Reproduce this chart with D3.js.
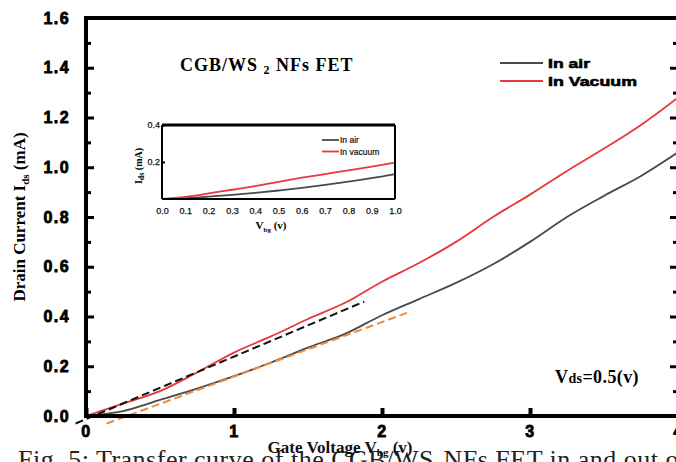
<!DOCTYPE html>
<html>
<head>
<meta charset="utf-8">
<script src="https://cdn.jsdelivr.net/npm/d3@7"></script>
<style>
  body { margin: 0; background: #fff; }
  svg { display: block; }
  .bold-sans { font-family: "Liberation Sans", Arial, sans-serif; font-weight: bold; }
  .serif { font-family: "Liberation Serif", "Times New Roman", serif; }
</style>
</head>
<body>
<div id="chart"></div>
<script>
// main curves (gate voltage in V, drain current in mA)
const gateV = [0, 0.25, 0.5, 0.75, 1.0, 1.25, 1.5, 1.75, 2.0, 2.25, 2.5, 2.75, 3.0, 3.25, 3.5, 3.75, 4.0];
const currentAir = [0, 0.02, 0.065, 0.11, 0.16, 0.215, 0.275, 0.33, 0.405, 0.47, 0.535, 0.61, 0.70, 0.80, 0.885, 0.965, 1.06];
const currentVacuum = [0, 0.05, 0.10, 0.175, 0.255, 0.32, 0.39, 0.455, 0.54, 0.615, 0.70, 0.80, 0.89, 0.985, 1.075, 1.17, 1.28];

// linear fits (dashed)
const fitVacuum = [[-0.07, -0.03], [1.88, 0.46]];
const fitAir = [[0.14, -0.03], [2.17, 0.415]];

// inset (low bias)
const insetV = [0, 0.1, 0.2, 0.3, 0.4, 0.5, 0.6, 0.7, 0.8, 0.9, 1.0];
const insetAir = [0, 0.005, 0.013, 0.022, 0.033, 0.046, 0.06, 0.076, 0.094, 0.113, 0.135];
const insetVacuum = [0, 0.012, 0.03, 0.05, 0.07, 0.093, 0.115, 0.135, 0.155, 0.175, 0.197];

const xTicks = [0, 1, 2, 3, 4];
const yTicks = [0, 0.2, 0.4, 0.6, 0.8, 1.0, 1.2, 1.4, 1.6];
const yMinor = [0.1, 0.3, 0.5, 0.7, 0.9, 1.1, 1.3, 1.5];
const insetXTicks = [0, 0.1, 0.2, 0.3, 0.4, 0.5, 0.6, 0.7, 0.8, 0.9, 1.0];
const insetYTicks = [0.2, 0.4];

const legendLabels = ['In air', 'In Vacuum'];
const insetLegendLabels = ['In air', 'In vacuum'];

const RED = '#e8383a', GRAY = '#4a4a4a', ORANGE = '#ef8a3e';

const width = 676, height = 462;
const svg = d3.select('#chart').append('svg')
  .attr('width', width).attr('height', height);

svg.append('rect').attr('width', width).attr('height', height).attr('fill', '#fff');

const plot = { left: 86, right: 678, top: 18, bottom: 416 };

const x = d3.scaleLinear().domain([0, 4]).range([plot.left, plot.right]);
const y = d3.scaleLinear().domain([0, 1.6]).range([plot.bottom, plot.top]);

// caption underneath (partly cut off by the frame)
svg.append('text')
  .attr('class', 'serif')
  .attr('x', 18).attr('y', 468)
  .attr('font-size', 26).attr('fill', '#222').attr('letter-spacing', 0.5)
  .text('Fig. 5: Transfer curve of the CGB/WS\u2082NFs FET in and out of vacuum');

// curves
const line = d3.line().x(d => x(d[0])).y(d => y(d[1])).curve(d3.curveMonotoneX);

svg.append('path')
  .datum(gateV.map((v, i) => [v, currentAir[i]]))
  .attr('d', line).attr('fill', 'none').attr('stroke', GRAY).attr('stroke-width', 1.8);
svg.append('path')
  .datum(gateV.map((v, i) => [v, currentVacuum[i]]))
  .attr('d', line).attr('fill', 'none').attr('stroke', RED).attr('stroke-width', 1.8);

const straight = d3.line().x(d => x(d[0])).y(d => y(d[1]));
svg.append('path').datum(fitVacuum).attr('d', straight)
  .attr('fill', 'none').attr('stroke', '#111').attr('stroke-width', 2).attr('stroke-dasharray', '8,4');
svg.append('path').datum(fitAir).attr('d', straight)
  .attr('fill', 'none').attr('stroke', ORANGE).attr('stroke-width', 2).attr('stroke-dasharray', '8,4');

// axes
const tickFont = (g, size) => g.selectAll('text')
  .attr('class', 'bold-sans')
  .attr('font-size', size)
  .attr('fill', '#000')
  .attr('stroke', '#000').attr('stroke-width', 0.8)
  .attr('letter-spacing', 1.4);

const yAxis = svg.append('g')
  .attr('transform', `translate(${plot.left},0)`)
  .call(d3.axisLeft(y).tickValues(yTicks).tickSize(-8).tickPadding(16).tickFormat(d3.format('.1f')));
yAxis.select('.domain').remove();
yAxis.selectAll('line').attr('stroke', '#000').attr('stroke-width', 3);
tickFont(yAxis, 16);

const yMinorAxis = svg.append('g')
  .attr('transform', `translate(${plot.left},0)`)
  .call(d3.axisLeft(y).tickValues(yMinor).tickSize(-5).tickFormat(''));
yMinorAxis.select('.domain').remove();
yMinorAxis.selectAll('line').attr('stroke', '#000').attr('stroke-width', 3);

const yRight = svg.append('g')
  .attr('transform', `translate(${plot.right},0)`)
  .call(d3.axisRight(y).tickValues(yTicks).tickSize(-8).tickFormat(''));
yRight.select('.domain').remove();
yRight.selectAll('line').attr('stroke', '#000').attr('stroke-width', 3);
const yRightMinor = svg.append('g')
  .attr('transform', `translate(${plot.right},0)`)
  .call(d3.axisRight(y).tickValues(yMinor).tickSize(-5).tickFormat(''));
yRightMinor.select('.domain').remove();
yRightMinor.selectAll('line').attr('stroke', '#000').attr('stroke-width', 3);

const xAxis = svg.append('g')
  .attr('transform', `translate(0,${plot.bottom})`)
  .call(d3.axisBottom(x).tickValues(xTicks).tickSize(-8).tickPadding(10).tickFormat(d3.format('d')));
xAxis.select('.domain').remove();
xAxis.selectAll('line').attr('stroke', '#000').attr('stroke-width', 4);
tickFont(xAxis, 16);

// frame
svg.append('rect')
  .attr('x', plot.left).attr('y', plot.top)
  .attr('width', plot.right - plot.left).attr('height', plot.bottom - plot.top)
  .attr('fill', 'none').attr('stroke', '#000').attr('stroke-width', 4);

// axis titles
const yTitle = svg.append('text')
  .attr('class', 'serif')
  .attr('transform', `translate(25,${(plot.top + plot.bottom) / 2}) rotate(-90)`)
  .attr('text-anchor', 'middle').attr('font-size', 17).attr('font-weight', 'bold');
yTitle.append('tspan').text('Drain Current I');
yTitle.append('tspan').attr('font-size', 11).attr('dy', 4).text('ds');
yTitle.append('tspan').attr('dy', -4).text(' (mA)');

const xTitle = svg.append('text')
  .attr('class', 'serif')
  .attr('x', 340).attr('y', 453)
  .attr('text-anchor', 'middle').attr('font-size', 17).attr('font-weight', 'bold').attr('fill', '#111');
xTitle.append('tspan').text('Gate Voltage V');
xTitle.append('tspan').attr('font-size', 11).attr('dy', 3).text('bg');
xTitle.append('tspan').attr('dy', -3).text(' (v)');

// annotations
const title = svg.append('text')
  .attr('class', 'serif')
  .attr('x', 180).attr('y', 71)
  .attr('font-size', 18).attr('font-weight', 'bold').attr('letter-spacing', 1);
title.append('tspan').text('CGB/WS ');
title.append('tspan').attr('font-size', 12).attr('dy', 3).text('2');
title.append('tspan').attr('dy', -3).text(' NFs FET');

const vds = svg.append('text')
  .attr('class', 'serif')
  .attr('x', 555).attr('y', 383)
  .attr('font-size', 18).attr('font-weight', 'bold').attr('letter-spacing', 0.4);
vds.append('tspan').text('V');
vds.append('tspan').attr('font-size', 14).text('ds');
vds.append('tspan').text('=0.5(v)');

// legend
const legend = svg.append('g');
legendLabels.forEach((label, i) => {
  const ly = 63 + i * 18;
  legend.append('line')
    .attr('x1', 500).attr('x2', 543).attr('y1', ly).attr('y2', ly)
    .attr('stroke', i === 0 ? GRAY : RED).attr('stroke-width', 2);
  legend.append('text')
    .attr('class', 'bold-sans')
    .attr('x', 548).attr('y', ly + 5)
    .attr('font-size', 13)
    .attr('stroke', '#000').attr('stroke-width', 0.6)
    .attr('textLength', i === 0 ? 42 : 89).attr('lengthAdjust', 'spacingAndGlyphs')
    .text(label);
});

// inset
const inset = { left: 162, right: 395, top: 125, bottom: 199 };
const ix = d3.scaleLinear().domain([0, 1]).range([inset.left, inset.right]);
const iy = d3.scaleLinear().domain([0, 0.4]).range([inset.bottom, inset.top]);
const ig = svg.append('g');

const iline = d3.line().x(d => ix(d[0])).y(d => iy(d[1])).curve(d3.curveMonotoneX);
ig.append('path').datum(insetV.map((v, i) => [v, insetAir[i]]))
  .attr('d', iline).attr('fill', 'none').attr('stroke', GRAY).attr('stroke-width', 1.8);
ig.append('path').datum(insetV.map((v, i) => [v, insetVacuum[i]]))
  .attr('d', iline).attr('fill', 'none').attr('stroke', RED).attr('stroke-width', 1.8);

const ixAxis = ig.append('g')
  .attr('transform', `translate(0,${inset.bottom})`)
  .call(d3.axisBottom(ix).tickValues(insetXTicks).tickSize(0).tickPadding(9).tickFormat(d3.format('.1f')));
ixAxis.select('.domain').remove();
ixAxis.selectAll('text')
  .attr('font-family', '"Liberation Sans", Arial, sans-serif')
  .attr('font-size', 9).attr('fill', '#111').attr('stroke', '#111').attr('stroke-width', 0.25);

const iyAxis = ig.append('g')
  .attr('transform', `translate(${inset.left},0)`)
  .call(d3.axisLeft(iy).tickValues(insetYTicks).tickSize(-3).tickPadding(2).tickFormat(d3.format('.1f')));
iyAxis.select('.domain').remove();
iyAxis.selectAll('line').attr('stroke', '#000').attr('stroke-width', 2);
iyAxis.selectAll('text')
  .attr('font-family', '"Liberation Sans", Arial, sans-serif')
  .attr('font-size', 9).attr('fill', '#111').attr('stroke', '#111').attr('stroke-width', 0.25);

ig.append('line').attr('x1', inset.left).attr('x2', inset.right)
  .attr('y1', inset.top).attr('y2', inset.top).attr('stroke', '#000').attr('stroke-width', 3);
ig.append('line').attr('x1', inset.left).attr('x2', inset.right)
  .attr('y1', inset.bottom).attr('y2', inset.bottom).attr('stroke', '#000').attr('stroke-width', 2);
ig.append('line').attr('x1', inset.left).attr('x2', inset.left)
  .attr('y1', inset.top).attr('y2', inset.bottom).attr('stroke', '#000').attr('stroke-width', 2);
ig.append('line').attr('x1', inset.right).attr('x2', inset.right)
  .attr('y1', inset.top).attr('y2', inset.bottom).attr('stroke', '#000').attr('stroke-width', 2);

const iyTitle = ig.append('text')
  .attr('class', 'serif')
  .attr('transform', `translate(142,${(inset.top + inset.bottom) / 2 + 4}) rotate(-90)`)
  .attr('text-anchor', 'middle').attr('font-size', 10).attr('font-weight', 'bold');
iyTitle.append('tspan').text('I');
iyTitle.append('tspan').attr('font-size', 8).attr('dy', 2).text('ds');
iyTitle.append('tspan').attr('dy', -2).text(' (mA)');

const ixTitle = ig.append('text')
  .attr('class', 'serif')
  .attr('x', 271).attr('y', 229)
  .attr('text-anchor', 'middle').attr('font-size', 11).attr('font-weight', 'bold');
ixTitle.append('tspan').text('V');
ixTitle.append('tspan').attr('font-size', 7).attr('dy', 3).text('bg');
ixTitle.append('tspan').attr('dy', -3).text(' (v)');

insetLegendLabels.forEach((label, i) => {
  const ly = 140 + i * 11.5;
  ig.append('line')
    .attr('x1', 322).attr('x2', 339).attr('y1', ly).attr('y2', ly)
    .attr('stroke', i === 0 ? GRAY : RED).attr('stroke-width', 1.8);
  ig.append('text')
    .attr('font-family', '"Liberation Sans", Arial, sans-serif')
    .attr('x', 340).attr('y', ly + 3)
    .attr('font-size', 8.5).attr('fill', '#111')
    .attr('stroke', '#111').attr('stroke-width', 0.2)
    .text(label);
});
</script>
</body>
</html>
